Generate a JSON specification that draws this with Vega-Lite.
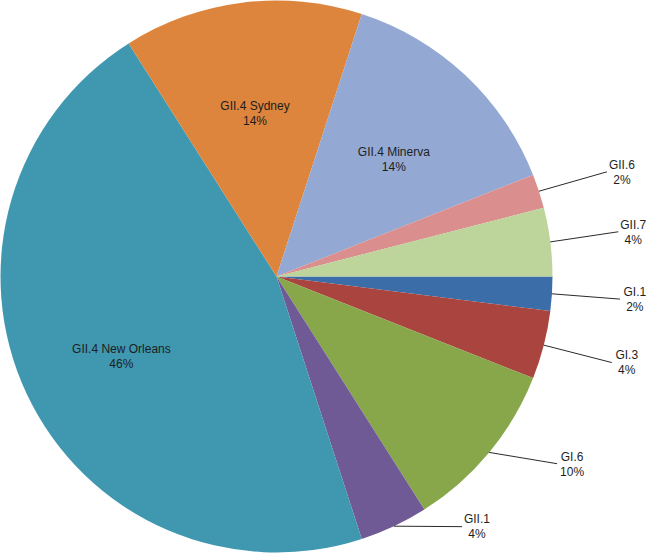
{
  "$schema": "https://vega.github.io/schema/vega-lite/v6.json",
  "width": 553,
  "height": 553,
  "autosize": {"type": "none"},
  "padding": {"left": 0, "top": 0, "right": 98, "bottom": 0},
  "background": "white",
  "config": {"view": {"stroke": null}},
  "data": {
    "values": [
      {"genotype": "GI.1", "value": 2, "order": 1},
      {"genotype": "GI.3", "value": 4, "order": 2},
      {"genotype": "GI.6", "value": 10, "order": 3},
      {"genotype": "GII.1", "value": 4, "order": 4},
      {"genotype": "GII.4 New Orleans", "value": 46, "order": 5},
      {"genotype": "GII.4 Sydney", "value": 14, "order": 6},
      {"genotype": "GII.4 Minerva", "value": 14, "order": 7},
      {"genotype": "GII.6", "value": 2, "order": 8},
      {"genotype": "GII.7", "value": 4, "order": 9}
    ]
  },
  "transform": [
    {"window": [{"op": "sum", "field": "value", "as": "cum"}], "sort": [{"field": "order"}], "frame": [null, 0]},
    {"joinaggregate": [{"op": "sum", "field": "value", "as": "total"}]},
    {"calculate": "2*PI*(datum.cum - datum.value/2)/datum.total", "as": "a"},
    {"calculate": "datum.genotype + '\\n' + format(datum.value/datum.total, '.0%')", "as": "label"},
    {"calculate": "0.62*cos(datum.a)", "as": "ix"},
    {"calculate": "0.62*sin(datum.a)", "as": "iy"},
    {"calculate": "0.998*cos(datum.a)", "as": "ex"},
    {"calculate": "0.998*sin(datum.a)", "as": "ey"},
    {"calculate": "datum.ex + 0.246", "as": "px"},
    {"calculate": "datum.ey + 0.307*sin(datum.a)*pow(cos(datum.a), 6)", "as": "py"},
    {"calculate": "datum.px + 0.054", "as": "tx"},
    {"calculate": "datum.py - 0.026", "as": "ty"}
  ],
  "layer": [
    {
      "mark": {"type": "arc", "outerRadius": 276},
      "encoding": {
        "theta": {"field": "value", "type": "quantitative", "stack": true, "scale": {"range": [1.5707963, 7.8539816]}},
        "order": {"field": "order", "type": "quantitative"},
        "color": {
          "field": "genotype",
          "type": "nominal",
          "legend": null,
          "scale": {
            "domain": ["GI.1", "GI.3", "GI.6", "GII.1", "GII.4 New Orleans", "GII.4 Sydney", "GII.4 Minerva", "GII.6", "GII.7"],
            "range": ["#3b6ea9", "#a9443f", "#88a74b", "#705a96", "#4097b0", "#dd843d", "#93a9d3", "#da8e8e", "#bdd49b"]
          }
        }
      }
    },
    {
      "transform": [{"filter": "datum.value > 10"}],
      "mark": {"type": "text", "font": "Liberation Sans", "fontSize": 12, "fill": "#1e1e1e", "lineBreak": "\n", "lineHeight": 15, "align": "center", "baseline": "middle"},
      "encoding": {
        "x": {"field": "ix", "type": "quantitative", "scale": {"domain": [-1, 1], "nice": false, "zero": false}, "axis": null},
        "y": {"field": "iy", "type": "quantitative", "scale": {"domain": [-1, 1], "nice": false, "zero": false, "reverse": true}, "axis": null},
        "text": {"field": "label", "type": "nominal"}
      }
    },
    {
      "transform": [{"filter": "datum.value <= 10"}],
      "mark": {"type": "rule", "stroke": "#2a2a2a", "strokeWidth": 1},
      "encoding": {
        "x": {"field": "ex", "type": "quantitative", "scale": {"domain": [-1, 1], "nice": false, "zero": false}, "axis": null},
        "y": {"field": "ey", "type": "quantitative", "scale": {"domain": [-1, 1], "nice": false, "zero": false, "reverse": true}, "axis": null},
        "x2": {"field": "px"},
        "y2": {"field": "py"}
      }
    },
    {
      "transform": [{"filter": "datum.value <= 10"}],
      "mark": {"type": "text", "font": "Liberation Sans", "fontSize": 12, "fill": "#1e1e1e", "lineBreak": "\n", "lineHeight": 15, "align": "center", "baseline": "middle"},
      "encoding": {
        "x": {"field": "tx", "type": "quantitative", "scale": {"domain": [-1, 1], "nice": false, "zero": false}, "axis": null},
        "y": {"field": "ty", "type": "quantitative", "scale": {"domain": [-1, 1], "nice": false, "zero": false, "reverse": true}, "axis": null},
        "text": {"field": "label", "type": "nominal"}
      }
    }
  ]
}
